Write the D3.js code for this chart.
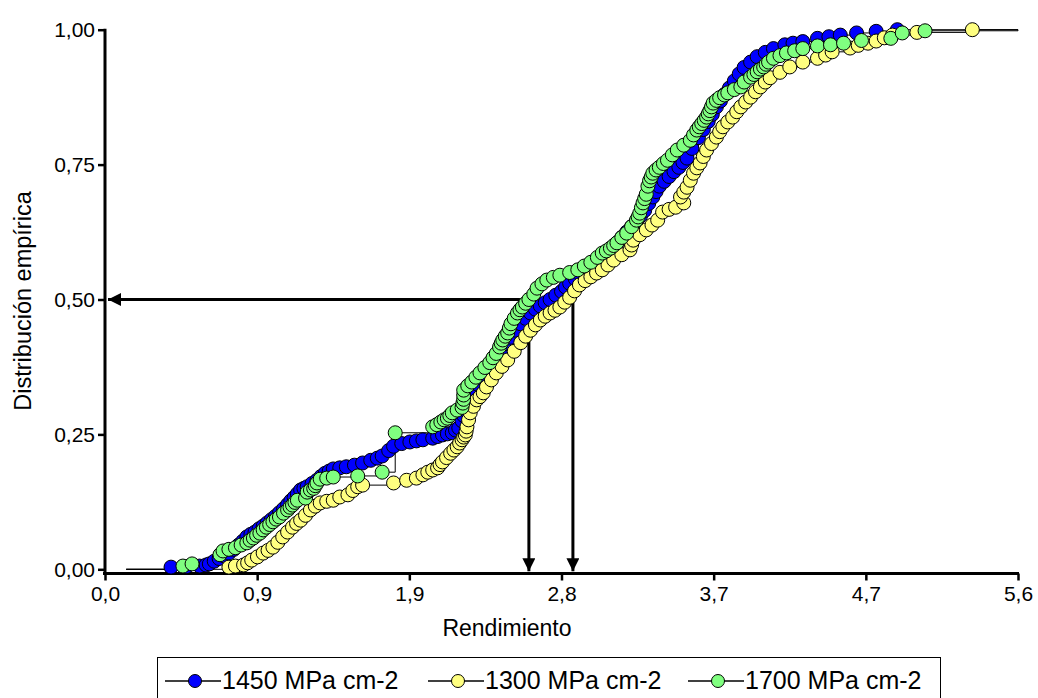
<!DOCTYPE html>
<html><head><meta charset="utf-8">
<script src="https://cdn.jsdelivr.net/npm/d3@7"></script>
<style>body{margin:0;background:#fff;} svg{display:block;font-family:"Liberation Sans",Arial,sans-serif;}</style>
</head><body>
<script>
// ---- data ----
const seriesNames = ["1450 MPa cm-2", "1300 MPa cm-2", "1700 MPa cm-2"];
const seriesColors = ["#0000ff", "#ffff80", "#80ff80"];
const xTickValues = [0, 0.9333, 1.8667, 2.8, 3.7333, 4.6667, 5.6];
const xTickLabels = ["0,0", "0,9", "1,9", "2,8", "3,7", "4,7", "5,6"];
const yTickValues = [0, 0.25, 0.5, 0.75, 1.0];
const yTickLabels = ["0,00", "0,25", "0,50", "0,75", "1,00"];
const medians = [2.60, 2.87];
const lineStartX = 0.13, lineEndX = 5.6;

const blueData = [[0.405,0.004],[0.50,0.005],[0.58,0.006],[0.62,0.008],[0.64,0.010],[0.67,0.015],[0.70,0.020],[0.73,0.025],[0.76,0.030],[0.79,0.037],[0.82,0.045],[0.845,0.052],[0.87,0.060],[0.895,0.065],[0.92,0.069],[0.945,0.075],[0.97,0.080],[0.995,0.086],[1.02,0.092],[1.045,0.098],[1.07,0.105],[1.095,0.112],[1.12,0.120],[1.14,0.127],[1.16,0.133],[1.18,0.140],[1.20,0.147],[1.22,0.150],[1.24,0.153],[1.27,0.159],[1.30,0.165],[1.325,0.172],[1.35,0.178],[1.375,0.182],[1.40,0.186],[1.44,0.188],[1.48,0.190],[1.53,0.193],[1.58,0.197],[1.63,0.202],[1.67,0.206],[1.70,0.210],[1.74,0.220],[1.77,0.228],[1.82,0.233],[1.87,0.236],[1.91,0.238],[1.95,0.240],[2.01,0.243],[2.04,0.246],[2.07,0.249],[2.10,0.251],[2.13,0.253],[2.15,0.258],[2.17,0.262],[2.19,0.275],[2.20,0.285],[2.21,0.295],[2.22,0.305],[2.24,0.318],[2.26,0.330],[2.285,0.343],[2.31,0.355],[2.34,0.368],[2.37,0.380],[2.40,0.393],[2.43,0.405],[2.46,0.418],[2.49,0.430],[2.52,0.443],[2.55,0.455],[2.58,0.465],[2.61,0.475],[2.64,0.482],[2.67,0.488],[2.70,0.494],[2.73,0.500],[2.765,0.508],[2.80,0.515],[2.825,0.523],[2.85,0.530],[2.885,0.538],[2.92,0.545],[2.96,0.555],[3.00,0.565],[3.04,0.575],[3.08,0.585],[3.11,0.595],[3.14,0.605],[3.17,0.615],[3.20,0.625],[3.23,0.635],[3.26,0.645],[3.285,0.655],[3.31,0.665],[3.335,0.678],[3.36,0.690],[3.38,0.700],[3.40,0.710],[3.43,0.719],[3.46,0.728],[3.49,0.737],[3.52,0.745],[3.545,0.754],[3.57,0.762],[3.60,0.780],[3.64,0.800],[3.67,0.815],[3.70,0.830],[3.725,0.843],[3.75,0.857],[3.775,0.868],[3.80,0.880],[3.83,0.892],[3.86,0.905],[3.89,0.918],[3.92,0.930],[3.96,0.940],[4.00,0.950],[4.05,0.958],[4.10,0.965],[4.17,0.972],[4.22,0.975],[4.28,0.978],[4.37,0.984],[4.44,0.987],[4.51,0.990],[4.61,0.994],[4.73,0.997],[4.86,1.0]];

const yellowData = [[0.76,0.004],[0.80,0.006],[0.85,0.008],[0.875,0.012],[0.90,0.017],[0.935,0.023],[0.97,0.030],[1.00,0.035],[1.03,0.041],[1.06,0.050],[1.09,0.060],[1.12,0.069],[1.15,0.078],[1.175,0.085],[1.20,0.091],[1.23,0.100],[1.26,0.110],[1.29,0.117],[1.32,0.123],[1.36,0.126],[1.40,0.128],[1.44,0.134],[1.49,0.138],[1.52,0.146],[1.55,0.153],[1.58,0.156],[1.77,0.160],[1.85,0.165],[1.91,0.169],[1.95,0.175],[1.98,0.180],[2.01,0.184],[2.04,0.188],[2.055,0.194],[2.07,0.199],[2.095,0.207],[2.12,0.215],[2.14,0.221],[2.16,0.227],[2.175,0.234],[2.19,0.240],[2.20,0.245],[2.21,0.249],[2.215,0.256],[2.22,0.264],[2.23,0.277],[2.24,0.290],[2.26,0.302],[2.28,0.314],[2.30,0.320],[2.32,0.327],[2.34,0.338],[2.37,0.351],[2.40,0.364],[2.435,0.376],[2.47,0.388],[2.51,0.404],[2.55,0.420],[2.58,0.432],[2.61,0.443],[2.64,0.453],[2.67,0.462],[2.70,0.469],[2.73,0.475],[2.76,0.480],[2.79,0.486],[2.82,0.495],[2.85,0.504],[2.88,0.516],[2.91,0.527],[2.945,0.535],[2.98,0.542],[3.015,0.549],[3.05,0.555],[3.085,0.564],[3.12,0.573],[3.17,0.583],[3.22,0.592],[3.23,0.601],[3.24,0.610],[3.28,0.620],[3.32,0.629],[3.355,0.638],[3.39,0.647],[3.42,0.662],[3.46,0.667],[3.50,0.671],[3.55,0.679],[3.53,0.690],[3.55,0.699],[3.57,0.708],[3.59,0.721],[3.61,0.734],[3.63,0.744],[3.65,0.753],[3.67,0.765],[3.69,0.777],[3.72,0.789],[3.75,0.801],[3.77,0.811],[3.79,0.820],[3.82,0.829],[3.85,0.838],[3.875,0.848],[3.90,0.857],[3.93,0.866],[3.96,0.875],[3.99,0.885],[4.02,0.894],[4.05,0.903],[4.08,0.911],[4.14,0.921],[4.20,0.931],[4.28,0.940],[4.37,0.947],[4.42,0.953],[4.46,0.959],[4.57,0.966],[4.62,0.971],[4.68,0.975],[4.73,0.979],[4.78,0.985],[4.83,0.990],[4.98,0.995],[5.32,1.0]];

const greenData = [[0.478,0.006],[0.534,0.010],[0.705,0.027],[0.724,0.034],[0.76,0.037],[0.80,0.040],[0.835,0.045],[0.87,0.049],[0.89,0.054],[0.91,0.058],[0.93,0.063],[0.95,0.067],[0.97,0.073],[0.99,0.078],[1.01,0.083],[1.03,0.088],[1.05,0.093],[1.07,0.097],[1.095,0.104],[1.12,0.110],[1.135,0.115],[1.15,0.119],[1.165,0.124],[1.18,0.128],[1.23,0.132],[1.24,0.143],[1.26,0.147],[1.28,0.150],[1.29,0.155],[1.30,0.160],[1.32,0.167],[1.36,0.169],[1.40,0.171],[1.55,0.173],[1.70,0.180],[1.78,0.253],[2.01,0.264],[2.035,0.268],[2.06,0.273],[2.08,0.277],[2.10,0.280],[2.115,0.285],[2.13,0.290],[2.16,0.295],[2.19,0.300],[2.195,0.308],[2.20,0.315],[2.20,0.323],[2.20,0.332],[2.225,0.340],[2.25,0.347],[2.275,0.356],[2.30,0.364],[2.33,0.374],[2.36,0.383],[2.38,0.392],[2.40,0.400],[2.42,0.412],[2.43,0.419],[2.44,0.425],[2.455,0.432],[2.47,0.438],[2.48,0.447],[2.49,0.455],[2.51,0.465],[2.53,0.475],[2.545,0.481],[2.56,0.486],[2.58,0.493],[2.60,0.500],[2.63,0.510],[2.65,0.521],[2.68,0.529],[2.71,0.536],[2.75,0.541],[2.79,0.545],[2.85,0.550],[2.90,0.555],[2.94,0.562],[2.98,0.569],[3.02,0.578],[3.05,0.586],[3.075,0.590],[3.10,0.595],[3.12,0.600],[3.14,0.605],[3.17,0.615],[3.20,0.623],[3.23,0.635],[3.26,0.647],[3.27,0.653],[3.28,0.660],[3.29,0.670],[3.30,0.679],[3.31,0.687],[3.32,0.695],[3.33,0.710],[3.34,0.720],[3.35,0.727],[3.36,0.734],[3.38,0.740],[3.40,0.745],[3.425,0.752],[3.45,0.758],[3.48,0.768],[3.51,0.777],[3.55,0.786],[3.59,0.795],[3.61,0.805],[3.63,0.814],[3.645,0.820],[3.66,0.826],[3.675,0.832],[3.69,0.838],[3.70,0.844],[3.71,0.850],[3.72,0.857],[3.73,0.864],[3.75,0.869],[3.77,0.874],[3.80,0.879],[3.82,0.883],[3.86,0.889],[3.90,0.894],[3.92,0.903],[3.96,0.912],[3.98,0.917],[4.00,0.922],[4.02,0.927],[4.04,0.931],[4.055,0.936],[4.07,0.940],[4.10,0.947],[4.14,0.952],[4.18,0.957],[4.23,0.961],[4.28,0.965],[4.37,0.970],[4.45,0.972],[4.53,0.975],[4.64,0.980],[4.82,0.984],[4.89,0.994],[5.03,0.998]];

const allSeries = [blueData, yellowData, greenData];

// ---- drawing ----
const W = 1038, H = 698;
const svg = d3.select("body").append("svg").attr("width", W).attr("height", H);
const x = d3.scaleLinear().domain([0, 5.6]).range([105, 1018]);
const y = d3.scaleLinear().domain([0, 1]).range([569.3, 29.7]);

// axes
const xAxisY = 573.5;
svg.append("line").attr("x1", 103).attr("x2", x(5.6) + 1).attr("y1", xAxisY).attr("y2", xAxisY)
  .attr("stroke", "#000").attr("stroke-width", 3);
svg.append("line").attr("x1", x(0)).attr("x2", x(0)).attr("y1", y(1) - 1).attr("y2", xAxisY)
  .attr("stroke", "#000").attr("stroke-width", 3);

const xAxis = svg.append("g").attr("transform", `translate(0,${xAxisY})`)
  .call(d3.axisBottom(x).tickValues(xTickValues).tickSize(7).tickPadding(6)
    .tickFormat((d, i) => xTickLabels[i]));
xAxis.select(".domain").remove();
xAxis.selectAll(".tick line").attr("stroke-width", 2.5);
xAxis.selectAll("text").attr("font-size", 21).attr("fill", "#000").attr("font-family", "Liberation Sans, Arial, sans-serif");

const yAxis = svg.append("g").attr("transform", `translate(${x(0)},0)`)
  .call(d3.axisLeft(y).tickValues(yTickValues).tickSize(7).tickPadding(3)
    .tickFormat((d, i) => yTickLabels[i]));
yAxis.select(".domain").remove();
yAxis.selectAll(".tick line").attr("stroke-width", 2.5);
yAxis.selectAll("text").attr("font-size", 21).attr("fill", "#000").attr("font-family", "Liberation Sans, Arial, sans-serif");

svg.append("text").attr("x", 507).attr("y", 636).attr("text-anchor", "middle")
  .attr("font-size", 23).text("Rendimiento");
svg.append("text").attr("transform", "translate(31,301) rotate(-90)").attr("text-anchor", "middle")
  .attr("font-size", 23.5).text("Distribución empírica");

// thin step lines
const stepLine = d3.line().x(d => x(d[0])).y(d => y(d[1])).curve(d3.curveStepAfter);
allSeries.forEach(data => {
  const pts = [[lineStartX, 0]].concat(data, [[lineEndX, 1]]);
  svg.append("path").attr("d", stepLine(pts)).attr("fill", "none").attr("stroke", "#000").attr("stroke-width", 1);
});

// arrows
const defs = svg.append("defs");
defs.append("marker").attr("id", "ah").attr("viewBox", "0 0 10 10").attr("refX", 10).attr("refY", 5)
  .attr("markerUnits", "userSpaceOnUse").attr("markerWidth", 18).attr("markerHeight", 13).attr("orient", "auto")
  .append("path").attr("d", "M0,0 L10,5 L0,10 Z").attr("fill", "#000");
svg.append("line").attr("x1", x(medians[1]) + 1).attr("x2", x(0) + 3).attr("y1", y(0.5)).attr("y2", y(0.5))
  .attr("stroke", "#000").attr("stroke-width", 3).attr("marker-end", "url(#ah)");
medians.forEach(m => {
  svg.append("line").attr("x1", x(m)).attr("x2", x(m)).attr("y1", y(0.5) - 1).attr("y2", y(0) + 2)
    .attr("stroke", "#000").attr("stroke-width", 3).attr("marker-end", "url(#ah)");
});

// markers
allSeries.forEach((data, i) => {
  svg.append("g").selectAll("circle").data(data).join("circle")
    .attr("cx", d => x(d[0])).attr("cy", d => y(d[1])).attr("r", 7)
    .attr("fill", seriesColors[i]).attr("stroke", "#000").attr("stroke-width", 1);
});

// legend
const lg = svg.append("g");
lg.append("rect").attr("x", 157.5).attr("y", 657.5).attr("width", 783).attr("height", 50)
  .attr("fill", "#fff").attr("stroke", "#000").attr("stroke-width", 1);
const legendX = [165, 428, 688];
seriesNames.forEach((name, i) => {
  const lx = legendX[i], ly = 681;
  lg.append("line").attr("x1", lx).attr("x2", lx + 56).attr("y1", ly).attr("y2", ly).attr("stroke", "#000").attr("stroke-width", 1.5);
  lg.append("circle").attr("cx", lx + 30).attr("cy", ly).attr("r", 6.5).attr("fill", seriesColors[i]).attr("stroke", "#000").attr("stroke-width", 1);
  lg.append("text").attr("x", lx + 57).attr("y", ly + 8).attr("font-size", 25).attr("fill", "#000").text(name);
});
</script>
</body></html>
